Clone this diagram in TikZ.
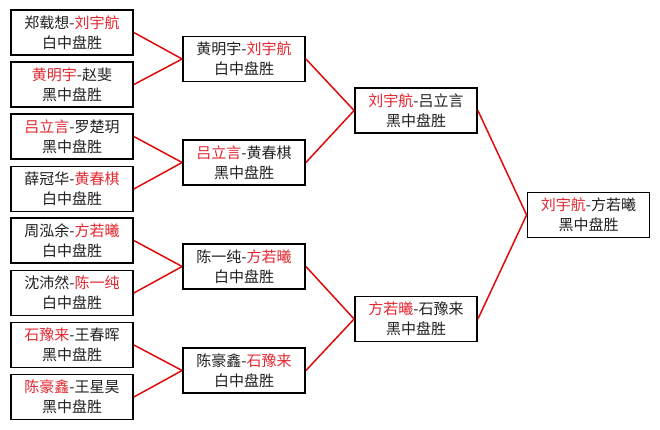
\documentclass[tikz,border=0pt]{standalone}
\usepackage{fontspec}
\setmainfont{Noto Sans CJK SC}
\definecolor{win}{HTML}{E3262F}
\definecolor{lin}{HTML}{E00A0A}
\definecolor{txt}{HTML}{202020}
\begin{document}
\begin{tikzpicture}[x=1pt,y=-1pt,
  game/.style={draw=black,line width=1.8pt,minimum width=122pt,minimum height=45pt,inner sep=0pt,align=center,
    font=\fontsize{15}{20}\selectfont,text=txt},
  conn/.style={draw=lin,line width=1.5pt}]
\useasboundingbox (0,0) rectangle (660,429);
\newcommand\W[1]{\textcolor{win}{#1}}
% column 1
\node[game] (a1) at (72,32.5) {郑载想-\W{刘宇航}\\白中盘胜};
\node[game] (a2) at (72,84.5) {\W{黄明宇}-赵斐\\黑中盘胜};
\node[game] (a3) at (72,136.5) {\W{吕立言}-罗楚玥\\黑中盘胜};
\node[game] (a4) at (72,189) {薛冠华-\W{黄春棋}\\白中盘胜};
\node[game] (a5) at (72,240.5) {周泓余-\W{方若曦}\\白中盘胜};
\node[game] (a6) at (72,293) {沈沛然-\W{陈一纯}\\白中盘胜};
\node[game] (a7) at (72,345) {\W{石豫来}-王春晖\\黑中盘胜};
\node[game] (a8) at (72,397) {\W{陈豪鑫}-王星昊\\黑中盘胜};
% column 2
\node[game] (b1) at (244,59) {黄明宇-\W{刘宇航}\\白中盘胜};
\node[game] (b2) at (244,162.5) {\W{吕立言}-黄春棋\\黑中盘胜};
\node[game] (b3) at (244,266.5) {陈一纯-\W{方若曦}\\白中盘胜};
\node[game] (b4) at (244,370.5) {陈豪鑫-\W{石豫来}\\白中盘胜};
% column 3
\node[game] (c1) at (416,110.5) {\W{刘宇航}-吕立言\\黑中盘胜};
\node[game] (c2) at (416,319) {\W{方若曦}-石豫来\\黑中盘胜};
% final
\node[game] (d) at (588.5,215) {\W{刘宇航}-方若曦\\黑中盘胜};
% connectors
\draw[conn] (a1.east) -- (b1.west);
\draw[conn] (a2.east) -- (b1.west);
\draw[conn] (a3.east) -- (b2.west);
\draw[conn] (a4.east) -- (b2.west);
\draw[conn] (a5.east) -- (b3.west);
\draw[conn] (a6.east) -- (b3.west);
\draw[conn] (a7.east) -- (b4.west);
\draw[conn] (a8.east) -- (b4.west);
\draw[conn] (b1.east) -- (c1.west);
\draw[conn] (b2.east) -- (c1.west);
\draw[conn] (b3.east) -- (c2.west);
\draw[conn] (b4.east) -- (c2.west);
\draw[conn] (c1.east) -- (d.west);
\draw[conn] (c2.east) -- (d.west);
\end{tikzpicture}
\end{document}
